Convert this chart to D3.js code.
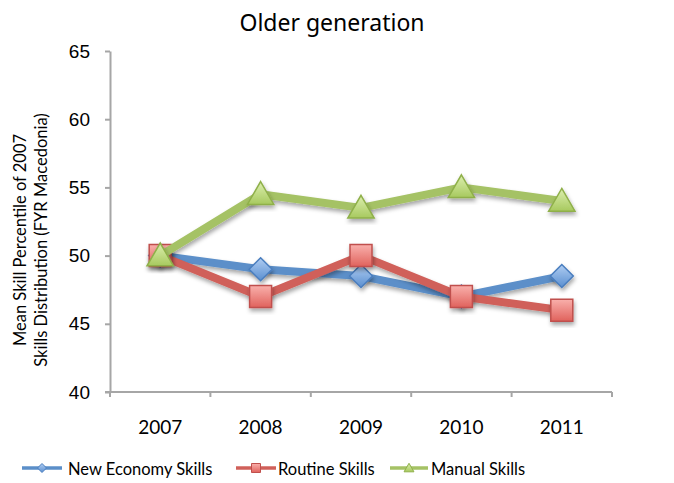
<!DOCTYPE html>
<html>
<head>
<meta charset="utf-8">
<script src="https://cdn.jsdelivr.net/npm/d3@7"></script>
<style>
  html, body { margin: 0; padding: 0; background: #fff; }
  svg { display: block; font-family: "Lato", "Noto Sans", sans-serif; }
</style>
</head>
<body>
<div id="chart"></div>
<script>
// Chart data
const years = ["2007", "2008", "2009", "2010", "2011"];
const newEconomy = [50, 49, 48.5, 47, 48.5];
const routine = [50, 47, 50, 47, 46];
const manual = [50, 54.5, 53.5, 55, 54];
const yTicks = [40, 45, 50, 55, 60, 65];

const series = [
    { name: "New Economy Skills", values: newEconomy, line: "#5b8fc9", light: "#b0cdf2", dark: "#5a8fd0", edge: "#4a7ebf", shape: "diamond" },
    { name: "Routine Skills",     values: routine,    line: "#d0605a", light: "#f9b0ac", dark: "#e0625c", edge: "#c0504d", shape: "square" },
    { name: "Manual Skills",      values: manual,     line: "#a5c265", light: "#ddefb0", dark: "#a7c95e", edge: "#8fb04a", shape: "triangle" }
];

const width = 674, height = 483;
const margin = { top: 51, right: 62, bottom: 91, left: 110 };
const innerW = width - margin.left - margin.right;
const innerH = height - margin.top - margin.bottom;

const svg = d3.select("#chart").append("svg")
    .attr("width", width).attr("height", height);

const defs = svg.append("defs");
const shadow = defs.append("filter").attr("id", "shadow")
    .attr("x", "-30%").attr("y", "-30%").attr("width", "160%").attr("height", "160%");
shadow.append("feDropShadow")
    .attr("dx", 1).attr("dy", 3).attr("stdDeviation", 2)
    .attr("flood-color", "#000").attr("flood-opacity", 0.35);

series.forEach((s, i) => {
    const grad = defs.append("linearGradient").attr("id", "grad" + i)
        .attr("x1", 0).attr("y1", 0).attr("x2", 0).attr("y2", 1);
    grad.append("stop").attr("offset", "0%").attr("stop-color", s.light);
    grad.append("stop").attr("offset", "100%").attr("stop-color", s.dark);
});

// Title
svg.append("text")
    .attr("x", 332).attr("y", 31)
    .attr("text-anchor", "middle")
    .attr("font-family", "'Noto Sans', sans-serif")
    .attr("font-size", "23px")
    .attr("fill", "#000")
    .text("Older generation");

const g = svg.append("g").attr("transform", `translate(${margin.left},${margin.top})`);

const x = d3.scaleBand().domain(years).range([0, innerW]);
const y = d3.scaleLinear().domain([40, 65]).range([innerH, 0]);

// Y axis
const yAxis = g.append("g")
    .call(d3.axisLeft(y).tickValues(yTicks).tickSize(5).tickPadding(15).tickSizeOuter(0));
yAxis.select(".domain").attr("stroke", "#a6a6a6").attr("stroke-width", 2);
yAxis.selectAll(".tick line").attr("stroke", "#a6a6a6").attr("stroke-width", 2);
yAxis.selectAll("text").attr("font-size", "19px").attr("fill", "#000");

// X axis with ticks on band edges
const xAxisG = g.append("g").attr("transform", `translate(0,${innerH})`);
xAxisG.append("line")
    .attr("x1", -5).attr("x2", innerW)
    .attr("stroke", "#a6a6a6").attr("stroke-width", 2);
const edges = years.map(d => x(d)).concat([innerW]);
xAxisG.selectAll(".xt").data(edges).enter().append("line")
    .attr("x1", d => d).attr("x2", d => d)
    .attr("y1", 0).attr("y2", 5)
    .attr("stroke", "#a6a6a6").attr("stroke-width", 2);
xAxisG.selectAll(".xl").data(years).enter().append("text")
    .attr("x", d => x(d) + x.bandwidth() / 2)
    .attr("y", 42)
    .attr("text-anchor", "middle")
    .attr("font-size", "19px")
    .attr("fill", "#000")
    .text(d => d);

// Y label
svg.append("text")
    .attr("transform", `translate(26,240) rotate(-90)`)
    .attr("text-anchor", "middle")
    .attr("font-size", "16.5px")
    .attr("fill", "#000")
    .selectAll("tspan")
    .data(["Mean Skill Percentile of 2007", "Skills Distribution (FYR Macedonia)"])
    .enter().append("tspan")
    .attr("x", 0)
    .attr("dy", (d, i) => i === 0 ? 0 : 21)
    .text(d => d);

const cx = d => x(d) + x.bandwidth() / 2;

function markerPath(shape, size) {
    const h = size / 2;
    if (shape === "diamond") return `M0,${-h}L${h},0L0,${h}L${-h},0Z`;
    if (shape === "square") return `M${-h},${-h}H${h}V${h}H${-h}Z`;
    const w = h * 1.1;
    return `M0,${-h * 1.05}L${w},${h * 0.85}L${-w},${h * 0.85}Z`;
}
const markerSize = { diamond: 23, square: 22, triangle: 24 };

const line = d3.line().x((d, i) => cx(years[i])).y(d => y(d));

series.forEach((s, si) => {
    const sg = g.append("g");
    sg.append("path")
        .datum(s.values)
        .attr("fill", "none")
        .attr("stroke", s.line)
        .attr("stroke-width", 8)
        .attr("stroke-linejoin", "round")
        .attr("filter", "url(#shadow)")
        .attr("d", line);
    sg.selectAll(".m").data(s.values).enter().append("path")
        .attr("transform", (d, i) => `translate(${cx(years[i])},${y(d)})`)
        .attr("d", markerPath(s.shape, markerSize[s.shape]))
        .attr("fill", `url(#grad${si})`)
        .attr("stroke", s.edge)
        .attr("stroke-width", 1.5)
        .attr("filter", "url(#shadow)");
});

// Legend
const legendItems = [
    { x0: 22, x1: 62, tx: 68 },
    { x0: 236, x1: 276, tx: 278 },
    { x0: 390, x1: 428, tx: 431 }
];
const leg = svg.append("g");
series.forEach((s, si) => {
    const L = legendItems[si];
    const ly = 468;
    leg.append("line")
        .attr("x1", L.x0).attr("x2", L.x1).attr("y1", ly).attr("y2", ly)
        .attr("stroke", s.line).attr("stroke-width", 3.5);
    leg.append("path")
        .attr("transform", `translate(${(L.x0 + L.x1) / 2},${ly})`)
        .attr("d", markerPath(s.shape, 9))
        .attr("fill", `url(#grad${si})`)
        .attr("stroke", s.edge).attr("stroke-width", 1);
    leg.append("text")
        .attr("x", L.tx).attr("y", ly + 7)
        .attr("font-size", "16.5px")
        .attr("fill", "#000")
        .text(s.name);
});
</script>
</body>
</html>
